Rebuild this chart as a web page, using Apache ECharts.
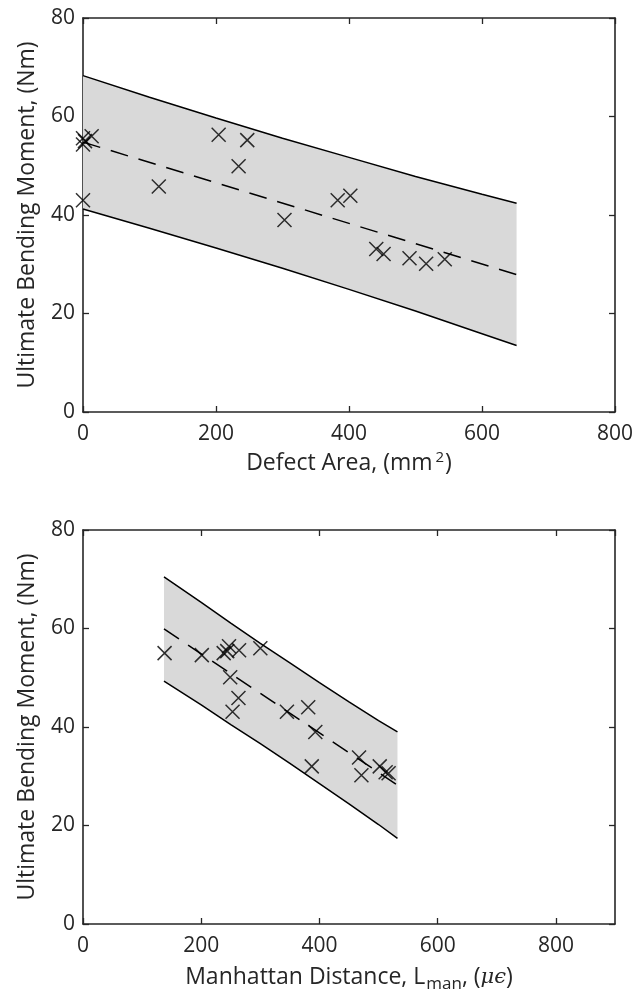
<!DOCTYPE html>
<html>
<head>
<meta charset="utf-8">
<script src="https://cdn.jsdelivr.net/npm/echarts@6/dist/echarts.min.js"></script>
<style>
  html, body { margin: 0; padding: 0; background: #fff; }
  #chart { width: 638px; height: 1003px; }
</style>
</head>
<body>
<div id="chart"></div>
<script>
// top panel: defect area
const areaX = [0, 0, 3, 13, 0, 114, 204, 247, 234, 303, 383, 402, 441, 452, 491, 516, 544];
const areaY = [55.6, 54.3, 55.0, 56.0, 43.0, 45.8, 56.3, 55.2, 49.9, 39.0, 43.0, 43.9, 33.1, 32.1, 31.2, 30.1, 31.0];
const areaBandX = [0, 100, 200, 300, 400, 500, 600, 652];
const areaUpper = [68.3, 63.9, 59.7, 55.6, 51.7, 47.8, 44.2, 42.4];
const areaLower = [41.2, 37.3, 33.3, 29.2, 24.9, 20.5, 15.9, 13.5];
const areaFitX = [0, 652];
const areaFitY = [54.8, 27.9];

// bottom panel: manhattan distance
const manX = [138, 201, 238, 244, 247, 264, 300, 249, 263, 253, 345, 381, 393, 387, 467, 471, 502, 512, 517];
const manY = [55.0, 54.6, 55.0, 55.4, 56.4, 55.6, 56.0, 50.1, 45.9, 43.1, 43.1, 44.0, 39.0, 32.0, 33.8, 30.2, 32.0, 30.8, 30.6];
const manBandX = [137, 200, 250, 300, 350, 400, 450, 500, 532];
const manUpper = [70.5, 65.3, 61.1, 57.0, 53.0, 49.0, 45.1, 41.3, 39.0];
const manLower = [49.3, 44.5, 40.5, 36.6, 32.6, 28.5, 24.4, 20.2, 17.4];
const manFitX = [137, 532];
const manFitY = [59.9, 28.2];

const INK = '#262626';
const FONT = 'Open Sans';
const cross = 'path://M0,0L10,10M10,0L0,10';

const pairs = (xs, ys) => xs.map((x, i) => [x, ys[i]]);

function bandSeries(idx, xs, lo, hi) {
  return {
    type: 'custom',
    xAxisIndex: idx, yAxisIndex: idx,
    silent: true, z: 1,
    data: xs.map((x, i) => [x, lo[i], hi[i]]),
    renderItem: (params, api) => {
      if (params.dataIndex !== 0) return;
      const top = xs.map((x, i) => api.coord([x, hi[i]]));
      const bot = xs.map((x, i) => api.coord([x, lo[i]])).reverse();
      return {
        type: 'polygon',
        shape: { points: top.concat(bot) },
        style: { fill: '#d9d9d9', stroke: null }
      };
    }
  };
}

function lineSeries(idx, data, dashed) {
  return {
    type: 'line',
    xAxisIndex: idx, yAxisIndex: idx,
    data: data, symbol: 'none', silent: true, z: 3,
    lineStyle: { color: '#000', width: 1.5, type: dashed ? [18, 11] : 'solid' }
  };
}

function scatterSeries(idx, data) {
  return {
    type: 'scatter',
    xAxisIndex: idx, yAxisIndex: idx,
    data: data, symbol: cross, symbolSize: 14, z: 4,
    itemStyle: { color: 'none', borderColor: '#000', borderWidth: 1.5 }
  };
}

function xAxisPair(grid, max, name) {
  const base = {
    gridIndex: grid, type: 'value', min: 0, max: max, interval: 200,
    splitLine: { show: false },
    axisLine: { onZero: false, lineStyle: { color: INK, width: 1.6 } },
    axisTick: { inside: true, length: 6, lineStyle: { color: INK, width: 1.3 } }
  };
  return [
    Object.assign({}, base, {
      position: 'bottom',
      name: name, nameLocation: 'middle', nameGap: 38,
      nameTextStyle: {
        color: INK, fontFamily: FONT, fontSize: 23,
        rich: {
          a: { color: INK, fontFamily: FONT, fontSize: 23 },
          sup: { color: INK, fontFamily: FONT, fontSize: 15, padding: [0, 1, 12, 3] },
          sub: { color: INK, fontFamily: FONT, fontSize: 17, padding: [14, 0, 0, 1] },
          it: { color: INK, fontFamily: 'DejaVu Serif', fontStyle: 'italic', fontSize: 21 }
        }
      },
      axisLabel: { color: INK, fontFamily: FONT, fontSize: 21, margin: 12, showMaxLabel: max === 800 }
    }),
    Object.assign({}, base, { position: 'top', axisLabel: { show: false } })
  ];
}

function yAxisPair(grid) {
  const base = {
    gridIndex: grid, type: 'value', min: 0, max: 80, interval: 20,
    splitLine: { show: false },
    axisLine: { onZero: false, lineStyle: { color: INK, width: 1.6 } },
    axisTick: { inside: true, length: 6, lineStyle: { color: INK, width: 1.3 } }
  };
  return [
    Object.assign({}, base, {
      position: 'left',
      name: 'Ultimate Bending Moment, (Nm)', nameLocation: 'middle', nameGap: 44,
      nameTextStyle: { color: INK, fontFamily: FONT, fontSize: 23 },
      axisLabel: { color: INK, fontFamily: FONT, fontSize: 21, margin: 8 }
    }),
    Object.assign({}, base, { position: 'right', axisLabel: { show: false } })
  ];
}

const chart = echarts.init(document.getElementById('chart'), null, { renderer: 'canvas' });

chart.setOption({
  backgroundColor: '#fff',
  animation: false,
  grid: [
    { left: 83, right: 23, top: 18, height: 394 },
    { left: 83, right: 23, top: 530, height: 394 }
  ],
  xAxis: [].concat(
    xAxisPair(0, 800, '{a|Defect Area, (mm}{sup|2}{a|)}'),
    xAxisPair(1, 900, '{a|Manhattan Distance, L}{sub|man}{a|, (}{it|\u03bc\u03f5}{a|)}')
  ),
  yAxis: [].concat(yAxisPair(0), yAxisPair(1)),
  series: [
    bandSeries(0, areaBandX, areaLower, areaUpper),
    lineSeries(0, pairs(areaBandX, areaUpper), false),
    lineSeries(0, pairs(areaBandX, areaLower), false),
    lineSeries(0, pairs(areaFitX, areaFitY), true),
    scatterSeries(0, pairs(areaX, areaY)),

    bandSeries(2, manBandX, manLower, manUpper),
    lineSeries(2, pairs(manBandX, manUpper), false),
    lineSeries(2, pairs(manBandX, manLower), false),
    lineSeries(2, pairs(manFitX, manFitY), true),
    scatterSeries(2, pairs(manX, manY))
  ]
});
</script>
</body>
</html>
